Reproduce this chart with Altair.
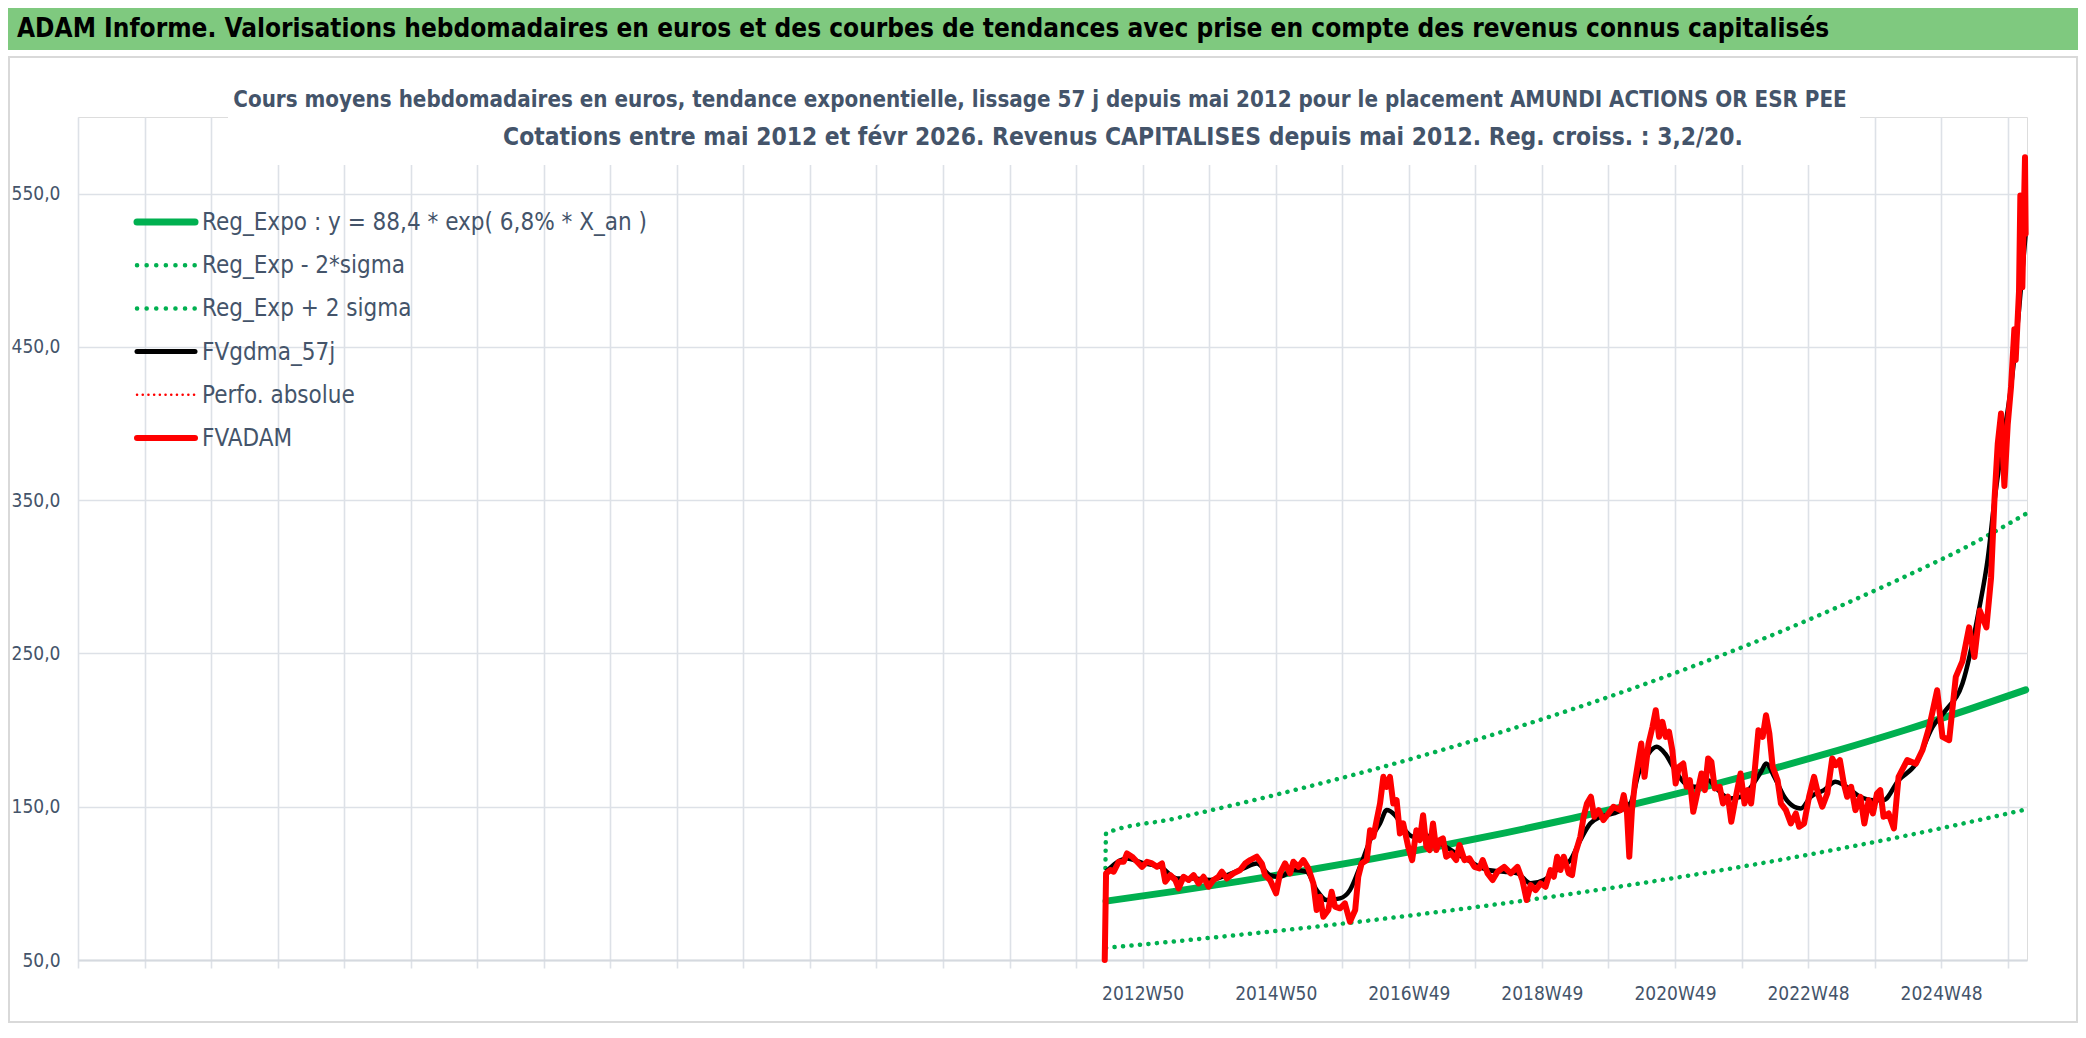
import altair as alt
import pandas as pd

# ---------------- texts ----------------
TITRE = "ADAM Informe. Valorisations hebdomadaires en euros et des courbes de tendances avec prise en compte des revenus connus capitalisés"
SOUS_TITRE_1 = "Cours moyens hebdomadaires en euros, tendance exponentielle, lissage 57 j depuis mai 2012 pour le placement AMUNDI ACTIONS OR ESR PEE"
SOUS_TITRE_2 = "Cotations entre mai 2012 et févr 2026. Revenus CAPITALISES depuis mai 2012. Reg. croiss. : 3,2/20."

legend_names = [
    "Reg_Expo : y = 88,4 * exp( 6,8% *  X_an )",
    "Reg_Exp - 2*sigma",
    "Reg_Exp + 2 sigma",
    "FVgdma_57j",
    "Perfo. absolue",
    "FVADAM",
]

# x axis: one gridline per year (52 weeks), a label every 2 years
x_domain = [1996.95, 2026.24]
x_grid_years = [round(1996.95 + k, 2) for k in range(30)]
x_label_years = [2012.95, 2014.95, 2016.95, 2018.95, 2020.95, 2022.95, 2024.95]
x_label_texts = ["2012W50", "2014W50", "2016W49", "2018W49", "2020W49", "2022W48", "2024W48"]

y_domain = [50, 600]
y_ticks = [50, 150, 250, 350, 450, 550]

# ---------------- data ----------------
reg_annee = [2012.40, 2013.40, 2014.40, 2015.40, 2016.40, 2017.40, 2018.40, 2019.40,
             2020.40, 2021.40, 2022.40, 2023.40, 2024.40, 2025.40, 2026.22]
reg_expo = [88.4, 94.6, 101.3, 108.4, 116.0, 124.2, 132.9, 142.3,
            152.3, 163.0, 174.5, 186.8, 199.9, 214.0, 226.2]
reg_moins = [57.9, 62.0, 66.4, 71.0, 76.0, 81.4, 87.1, 93.2,
             99.8, 106.8, 114.3, 122.4, 130.9, 140.2, 148.2]
reg_plus_annee = [2012.39] + reg_annee
reg_plus = [110.0, 132.7, 142.0, 152.0, 162.7, 174.1, 186.4, 199.5, 213.5,
            228.5, 244.6, 261.8, 280.3, 300.0, 321.1, 341.0]

fvadam_annee = [
    2012.38, 2012.40, 2012.465, 2012.515, 2012.59, 2012.665, 2012.715, 2012.79, 2012.865, 2012.94,
    2013.015, 2013.09, 2013.165, 2013.24, 2013.29, 2013.365, 2013.44, 2013.49, 2013.565, 2013.64,
    2013.715, 2013.79, 2013.865, 2013.94, 2014.015, 2014.09, 2014.14, 2014.215, 2014.315, 2014.415,
    2014.49, 2014.565, 2014.665, 2014.74, 2014.79, 2014.865, 2014.955, 2015.015, 2015.09, 2015.165,
    2015.215, 2015.29, 2015.365, 2015.44, 2015.515, 2015.565, 2015.615, 2015.665, 2015.74, 2015.79,
    2015.84, 2015.915, 2015.99, 2016.065, 2016.144, 2016.19, 2016.24, 2016.318, 2016.368, 2016.418,
    2016.467, 2016.517, 2016.567, 2016.617, 2016.666, 2016.716, 2016.766, 2016.816, 2016.865, 2016.94,
    2017.0, 2017.064, 2017.114, 2017.164, 2017.214, 2017.263, 2017.313, 2017.363, 2017.413, 2017.462,
    2017.512, 2017.587, 2017.661, 2017.711, 2017.786, 2017.86, 2017.935, 2018.01, 2018.06, 2018.134,
    2018.209, 2018.283, 2018.383, 2018.482, 2018.582, 2018.656, 2018.721, 2018.781, 2018.855, 2018.93,
    2019.005, 2019.079, 2019.129, 2019.179, 2019.229, 2019.278, 2019.353, 2019.403, 2019.452, 2019.527,
    2019.577, 2019.627, 2019.686, 2019.736, 2019.801, 2019.875, 2019.95, 2020.025, 2020.129, 2020.179,
    2020.229, 2020.263, 2020.303, 2020.353, 2020.393, 2020.443, 2020.492, 2020.552, 2020.612, 2020.661,
    2020.711, 2020.761, 2020.811, 2020.86, 2020.91, 2020.96, 2021.01, 2021.074, 2021.124, 2021.174,
    2021.224, 2021.273, 2021.348, 2021.398, 2021.448, 2021.497, 2021.547, 2021.622, 2021.671, 2021.746,
    2021.796, 2021.87, 2021.935, 2021.995, 2022.045, 2022.094, 2022.144, 2022.204, 2022.268, 2022.318,
    2022.368, 2022.418, 2022.492, 2022.542, 2022.617, 2022.691, 2022.766, 2022.816, 2022.89, 2022.965,
    2023.04, 2023.099, 2023.164, 2023.239, 2023.313, 2023.363, 2023.428, 2023.487, 2023.537, 2023.597,
    2023.662, 2023.736, 2023.796, 2023.861, 2023.925, 2023.985, 2024.035, 2024.084, 2024.16, 2024.24,
    2024.31, 2024.44, 2024.57, 2024.67, 2024.77, 2024.89, 2024.97, 2025.07, 2025.17, 2025.27,
    2025.37, 2025.45, 2025.53, 2025.63, 2025.70, 2025.75, 2025.80, 2025.85, 2025.90, 2025.95,
    2026.00, 2026.05, 2026.07, 2026.12, 2026.14, 2026.17, 2026.21, 2026.22,
]
fvadam = [
    50.0, 106.5, 108.7, 107.6, 114.1, 114.1, 119.5, 117.4, 114.1, 110.8,
    114.1, 113.0, 110.8, 113.0, 101.1, 105.4, 102.2, 96.7, 104.3, 102.2,
    105.4, 100.0, 104.3, 97.8, 102.2, 104.3, 107.6, 103.2, 106.5, 108.7,
    113.0, 115.2, 117.4, 113.0, 105.4, 102.2, 93.5, 106.5, 113.0, 106.5,
    114.1, 110.8, 115.2, 109.8, 100.0, 82.6, 91.3, 78.2, 82.6, 94.5,
    84.8, 83.7, 86.9, 75.0, 82.6, 104.3, 113.0, 115.2, 134.7, 130.4,
    141.3, 152.1, 169.5, 163.0, 169.5, 152.1, 154.3, 132.6, 139.1, 123.9,
    115.2, 134.7, 128.2, 144.5, 123.9, 121.7, 139.1, 121.7, 128.2, 129.3,
    117.4, 119.5, 115.2, 125.0, 115.2, 116.3, 110.8, 109.8, 115.2, 106.5,
    102.2, 107.6, 110.8, 106.5, 110.8, 102.2, 89.1, 98.9, 95.6, 100.0,
    97.8, 108.7, 104.3, 117.4, 108.7, 117.4, 106.5, 105.4, 119.5, 130.4,
    143.4, 152.1, 156.5, 143.4, 147.8, 141.3, 145.6, 150.0, 147.8, 157.6,
    145.6, 117.4, 147.8, 167.3, 178.2, 191.2, 169.5, 191.2, 202.1, 213.0,
    195.6, 205.4, 195.6, 198.9, 186.9, 165.2, 176.0, 178.2, 163.0, 167.3,
    146.7, 156.5, 171.7, 160.8, 181.5, 179.3, 161.9, 163.0, 152.1, 156.5,
    140.2, 157.6, 171.7, 152.1, 160.8, 152.1, 171.7, 199.9, 195.6, 209.7,
    197.8, 176.0, 167.3, 152.1, 147.8, 139.1, 145.6, 136.9, 139.1, 156.5,
    169.5, 158.6, 150.0, 158.6, 181.5, 177.1, 180.4, 165.2, 156.5, 163.0,
    147.8, 156.5, 139.1, 154.3, 145.6, 158.6, 160.8, 143.4, 145.6, 135.8,
    169.5, 180.4, 178.0, 187.0, 202.0, 226.0, 195.6, 193.4, 234.7, 245.0,
    267.0, 247.7, 278.0, 267.0, 299.4, 349.2, 386.7, 406.6, 359.3, 399.2,
    424.0, 461.5, 441.5, 486.4, 548.8, 488.9, 573.7, 523.8,
]

fvgdma_annee = [
    2012.40, 2012.715, 2012.965, 2013.215, 2013.465, 2013.715, 2013.965, 2014.215, 2014.465, 2014.665,
    2014.865, 2015.015, 2015.215, 2015.415, 2015.565, 2015.715, 2015.915, 2016.065, 2016.215, 2016.393,
    2016.517, 2016.617, 2016.741, 2016.89, 2017.015, 2017.139, 2017.338, 2017.587, 2017.836, 2018.134,
    2018.383, 2018.582, 2018.781, 2018.98, 2019.229, 2019.378, 2019.527, 2019.676, 2019.826, 2020.025,
    2020.278, 2020.403, 2020.552, 2020.676, 2020.8, 2020.95, 2021.099, 2021.249, 2021.448, 2021.597,
    2021.771, 2021.945, 2022.094, 2022.244, 2022.318, 2022.443, 2022.592, 2022.741, 2022.841, 2022.99,
    2023.189, 2023.363, 2023.487, 2023.736, 2023.935, 2024.084, 2024.31, 2024.57, 2024.82, 2025.02,
    2025.27, 2025.52, 2025.65, 2025.75, 2025.87, 2026.00, 2026.12, 2026.22,
]
fvgdma = [
    107.6, 116.3, 113.0, 110.8, 103.2, 103.2, 102.2, 105.4, 109.8, 113.0,
    105.4, 104.3, 108.7, 107.6, 95.6, 89.1, 90.2, 95.6, 110.8, 130.4,
    139.1, 147.8, 144.5, 134.7, 130.4, 132.6, 128.2, 121.7, 115.2, 108.7,
    107.6, 106.5, 100.0, 102.2, 110.8, 115.2, 128.2, 139.1, 143.4, 145.6,
    152.1, 171.7, 184.7, 189.1, 184.7, 173.9, 165.2, 163.0, 167.3, 160.8,
    155.4, 156.5, 163.0, 172.8, 178.2, 169.5, 156.5, 150.0, 148.9, 156.5,
    160.8, 166.3, 164.1, 156.5, 154.3, 154.3, 167.3, 178.0, 202.0, 213.0,
    230.4, 279.0, 311.8, 349.2, 386.7, 424.0, 474.0, 523.8,
]

# ---------------- styling constants ----------------
FONT = "Liberation Sans Narrow, Arial Narrow, DejaVu Sans Condensed, sans-serif"
TXT = "#44546A"
GRID = "#DDE1E7"
GREEN = "#00B050"
RED = "#FF0000"
W, H = 1949, 843
PAD_L, PAD_T = 70, 109

xenc = alt.X(
    "annee:Q",
    scale=alt.Scale(domain=x_domain, nice=False, zero=False),
    axis=alt.Axis(
        title=None,
        values=x_grid_years,
        labelExpr="indexof(%s, round(datum.value*100)/100) >= 0 ? %s[indexof(%s, round(datum.value*100)/100)] : ''"
        % (str(x_label_years), str(x_label_texts), str(x_label_years)),
        labelFont=FONT, labelFontSize=19, labelColor=TXT, labelPadding=16,
        labelOverlap=False, labelFlush=False,
        grid=True, gridColor=GRID, gridWidth=1.6,
        ticks=True, tickSize=8, tickColor=GRID, tickWidth=1.6,
        domain=True, domainColor="#D5D9DF", domainWidth=2,
    ),
)
yenc = alt.Y(
    "valeur:Q",
    scale=alt.Scale(domain=y_domain, nice=False, zero=False),
    axis=alt.Axis(
        title=None,
        values=y_ticks,
        labelExpr="replace(format(datum.value, '.1f'), '.', ',')",
        labelFont=FONT, labelFontSize=19, labelColor=TXT, labelPadding=18,
        grid=True, gridColor=GRID, gridWidth=1.6,
        ticks=False, tickSize=0, domain=False,
    ),
)

df_reg = pd.DataFrame({"annee": reg_annee, "valeur": reg_expo})
df_moins = pd.DataFrame({"annee": reg_annee, "valeur": reg_moins})
df_plus = pd.DataFrame({"annee": reg_plus_annee, "valeur": reg_plus})
df_adam = pd.DataFrame({"annee": fvadam_annee, "valeur": fvadam})
df_gdma = pd.DataFrame({"annee": fvgdma_annee, "valeur": fvgdma})

one = pd.DataFrame({"t": [""]})

# chart-area frame (decoration)
frame = alt.Chart(one).mark_rect(fillOpacity=0, stroke="#D9D9D9", strokeWidth=2).encode(
    x=alt.value(-69), x2=alt.value(W + 50), y=alt.value(-60), y2=alt.value(H + 62)
)
# green header band
band = alt.Chart(one).mark_rect(fill="#7FC97F").encode(
    x=alt.value(-PAD_L), x2=alt.value(W + 51), y=alt.value(-PAD_T), y2=alt.value(-67)
)
# white box behind the chart title (hides gridlines)
title_box = alt.Chart(one).mark_rect(fill="white").encode(
    x=alt.value(150), x2=alt.value(1782), y=alt.value(-1), y2=alt.value(48)
)

line_reg = alt.Chart(df_reg).mark_line(
    color=GREEN, strokeWidth=7, interpolate="monotone", strokeCap="round"
).encode(x=xenc, y=yenc)
line_moins = alt.Chart(df_moins).mark_line(
    color=GREEN, strokeWidth=4.5, strokeDash=[0.1, 8.4], strokeCap="round", interpolate="monotone"
).encode(x=xenc, y=yenc)
line_plus = alt.Chart(df_plus).mark_line(
    color=GREEN, strokeWidth=4.5, strokeDash=[0.1, 8.4], strokeCap="round", interpolate="monotone"
).encode(x=xenc, y=yenc)
line_gdma = alt.Chart(df_gdma).mark_line(
    color="black", strokeWidth=4.5, interpolate="monotone", strokeJoin="round"
).encode(x=xenc, y=yenc)
line_adam = alt.Chart(df_adam).mark_line(
    color=RED, strokeWidth=6, strokeJoin="round", strokeCap="round"
).encode(x=xenc, y=yenc)

# ---------------- legend (built from legend_names) ----------------
leg_styles = [
    dict(color=GREEN, strokeWidth=7, strokeCap="round"),
    dict(color=GREEN, strokeWidth=4.5, strokeDash=[0.1, 9.5], strokeCap="round"),
    dict(color=GREEN, strokeWidth=4.5, strokeDash=[0.1, 9.5], strokeCap="round"),
    dict(color="black", strokeWidth=5, strokeCap="round"),
    dict(color=RED, strokeWidth=2.5, strokeDash=[0.1, 5.6], strokeCap="round"),
    dict(color=RED, strokeWidth=6, strokeCap="round"),
]
legend_layers = []
for i, (name, st) in enumerate(zip(legend_names, leg_styles)):
    yy = 105 + 43.2 * i
    d = pd.DataFrame({"t": [name]})
    legend_layers.append(
        alt.Chart(d).mark_rule(**st).encode(x=alt.value(59), x2=alt.value(117), y=alt.value(yy))
    )
    legend_layers.append(
        alt.Chart(d).mark_text(
            align="left", baseline="middle", font=FONT, fontSize=24, color=TXT
        ).encode(text="t:N", x=alt.value(124), y=alt.value(yy + 1))
    )

# ---------------- titles ----------------
titre = alt.Chart(pd.DataFrame({"t": [TITRE]})).mark_text(
    align="left", baseline="alphabetic", font=FONT, fontSize=26, fontWeight="bold", color="black"
).encode(text="t:N", x=alt.value(-61), y=alt.value(-80))
st1 = alt.Chart(pd.DataFrame({"t": [SOUS_TITRE_1]})).mark_text(
    align="center", baseline="alphabetic", font=FONT, fontSize=22.2, fontWeight="bold", color=TXT
).encode(text="t:N", x=alt.value(962), y=alt.value(-10))
st2 = alt.Chart(pd.DataFrame({"t": [SOUS_TITRE_2]})).mark_text(
    align="center", baseline="alphabetic", font=FONT, fontSize=24.4, fontWeight="bold", color=TXT
).encode(text="t:N", x=alt.value(1045), y=alt.value(28))

chart = alt.layer(
    frame, band, line_reg, line_moins, line_plus, line_gdma, line_adam,
    title_box, titre, st1, st2, *legend_layers
).properties(
    width=W, height=H,
    autosize=alt.AutoSizeParams(type="none"),
    padding={"left": PAD_L, "top": PAD_T, "right": 51, "bottom": 64},
).configure_view(stroke=None).configure(background="white")

chart.save("out.html", embed_options={"renderer": "svg", "actions": False})
